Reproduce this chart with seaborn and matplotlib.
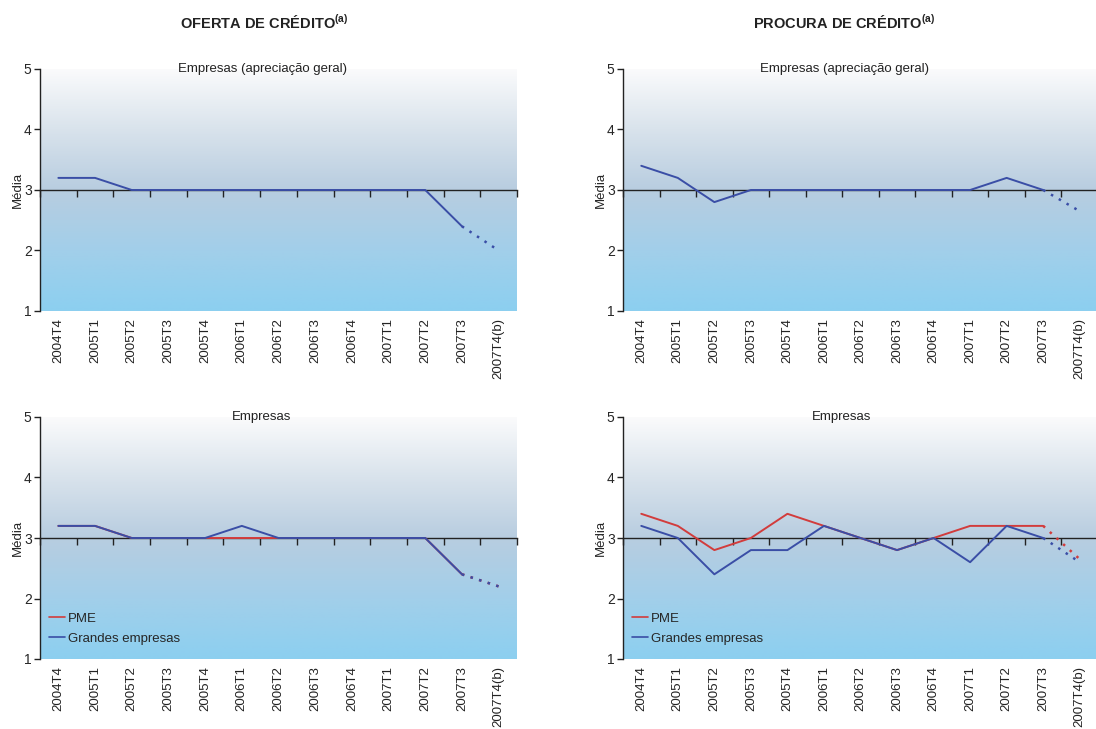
import numpy as np
import pandas as pd
import matplotlib
matplotlib.use('Agg')
import matplotlib.pyplot as plt
from matplotlib.colors import LinearSegmentedColormap
import seaborn as sns

sns.set_style('white')
plt.rcParams['font.family'] = ['Liberation Sans', 'DejaVu Sans']

trimestres = ['2004T4', '2005T1', '2005T2', '2005T3', '2005T4', '2006T1', '2006T2',
              '2006T3', '2006T4', '2007T1', '2007T2', '2007T3', '2007T4(b)']

# oferta de crédito
oferta_geral = [3.2, 3.2, 3.0, 3.0, 3.0, 3.0, 3.0, 3.0, 3.0, 3.0, 3.0, 2.4, 2.0]
oferta_pme = [3.2, 3.2, 3.0, 3.0, 3.0, 3.0, 3.0, 3.0, 3.0, 3.0, 3.0, 2.4, 2.2]
oferta_grandes = [3.2, 3.2, 3.0, 3.0, 3.0, 3.2, 3.0, 3.0, 3.0, 3.0, 3.0, 2.4, 2.2]

# procura de crédito
procura_geral = [3.4, 3.2, 2.8, 3.0, 3.0, 3.0, 3.0, 3.0, 3.0, 3.0, 3.2, 3.0, 2.65]
procura_pme = [3.4, 3.2, 2.8, 3.0, 3.4, 3.2, 3.0, 2.8, 3.0, 3.2, 3.2, 3.2, 2.65]
procura_grandes = [3.2, 3.0, 2.4, 2.8, 2.8, 3.2, 3.0, 2.8, 3.0, 2.6, 3.2, 3.0, 2.6]

cores = {'Empresas': '#3a4ea6', 'PME': '#d23c3c', 'Grandes empresas': '#3a4ea6'}

W, H = 1096, 729
fig = plt.figure(figsize=(W / 100, H / 100), dpi=100)

fundo = LinearSegmentedColormap.from_list(
    'fundo', [(0.0, '#8ccff0'), (0.25, '#a2cfea'), (0.5, '#b8cde0'),
              (0.75, '#d9e3ec'), (1.0, '#fbfbfc')])


def eixo(left, right, top, bottom):
    return fig.add_axes([left / W, (H - bottom) / H, (right - left) / W, (bottom - top) / H])


def desenha(ax, series):
    n = len(trimestres)
    ax.set_xlim(-0.5, n - 0.5)
    ax.set_ylim(1, 5)
    grad = np.linspace(0, 1, 256).reshape(-1, 1)
    ax.imshow(grad, cmap=fundo, origin='lower', aspect='auto',
              extent=[-0.5, n - 0.5, 1, 5], zorder=-10)

    linhas = []
    pontos = []
    for nome, vals in series.items():
        for i, v in enumerate(vals):
            row = {'x': i, 'valor': v, 'serie': nome}
            if i < n - 1:
                linhas.append(row)
            if i >= n - 2:
                pontos.append(row)
    df = pd.DataFrame(linhas)
    dfp = pd.DataFrame(pontos)
    ordem = list(series.keys())
    sns.lineplot(data=df, x='x', y='valor', hue='serie', hue_order=ordem,
                 palette=cores, linewidth=1.4, ax=ax, legend=len(ordem) > 1, zorder=3)
    sns.lineplot(data=dfp, x='x', y='valor', hue='serie', hue_order=ordem,
                 palette=cores, linewidth=1.8, linestyle=(0, (1, 2.6)), ax=ax,
                 legend=False, zorder=3)

    for s in ['top', 'right', 'bottom']:
        ax.spines[s].set_visible(False)
    ax.spines['left'].set_color('#222222')
    ax.spines['left'].set_linewidth(1.0)
    ax.set_yticks([1, 2, 3, 4, 5])
    ax.tick_params(axis='y', direction='out', length=4, width=1, color='#222222',
                   labelsize=10, pad=2, left=True)
    ax.set_xticks(range(n))
    ax.set_xticklabels(trimestres, rotation=90, fontsize=9.5, color='#222222')
    ax.tick_params(axis='x', length=0, pad=5)
    ax.set_xlabel('')
    ax.set_ylabel('Média', fontsize=9.5, labelpad=0)

    # eixo horizontal no nível 3
    sec = ax.secondary_xaxis(0.5)
    sec.set_xticks(np.arange(-0.5, n, 1.0))
    sec.set_xticklabels([])
    sec.tick_params(direction='in', length=5, width=1, color='#222222')
    for s in sec.spines.values():
        s.set_color('#222222')
        s.set_linewidth(1.0)
    sec.set_zorder(1)

    if len(ordem) > 1:
        leg = ax.legend(loc='lower left', bbox_to_anchor=(0.0, 0.02), frameon=False,
                        fontsize=9.5, handlelength=1.2, handletextpad=0.2,
                        labelspacing=0.6, borderaxespad=0.3)
        for h in leg.get_lines():
            h.set_linewidth(1.2)


ax1 = eixo(40, 517, 69, 311)
desenha(ax1, {'Empresas': oferta_geral})
ax2 = eixo(623, 1098, 69, 311)
desenha(ax2, {'Empresas': procura_geral})
ax3 = eixo(40, 517, 417, 659)
desenha(ax3, {'PME': oferta_pme, 'Grandes empresas': oferta_grandes})
ax4 = eixo(623, 1098, 417, 659)
desenha(ax4, {'PME': procura_pme, 'Grandes empresas': procura_grandes})

# títulos
for x, txt in [(264, 'OFERTA DE CRÉDITO'), (844, 'PROCURA DE CRÉDITO')]:
    fig.text(x / W, 1 - 22 / H, txt + r'$^{\mathregular{(a)}}$', ha='center', va='center',
             fontsize=10.5, fontweight='bold', color='#222222')
for x, y, txt in [(262, 69, 'Empresas (apreciação geral)'), (845, 69, 'Empresas (apreciação geral)'),
                  (262, 417, 'Empresas'), (842, 417, 'Empresas')]:
    fig.text(x / W, 1 - y / H, txt, ha='center', va='center', fontsize=9.5, color='#222222')

fig.savefig('out.png', dpi=100)
